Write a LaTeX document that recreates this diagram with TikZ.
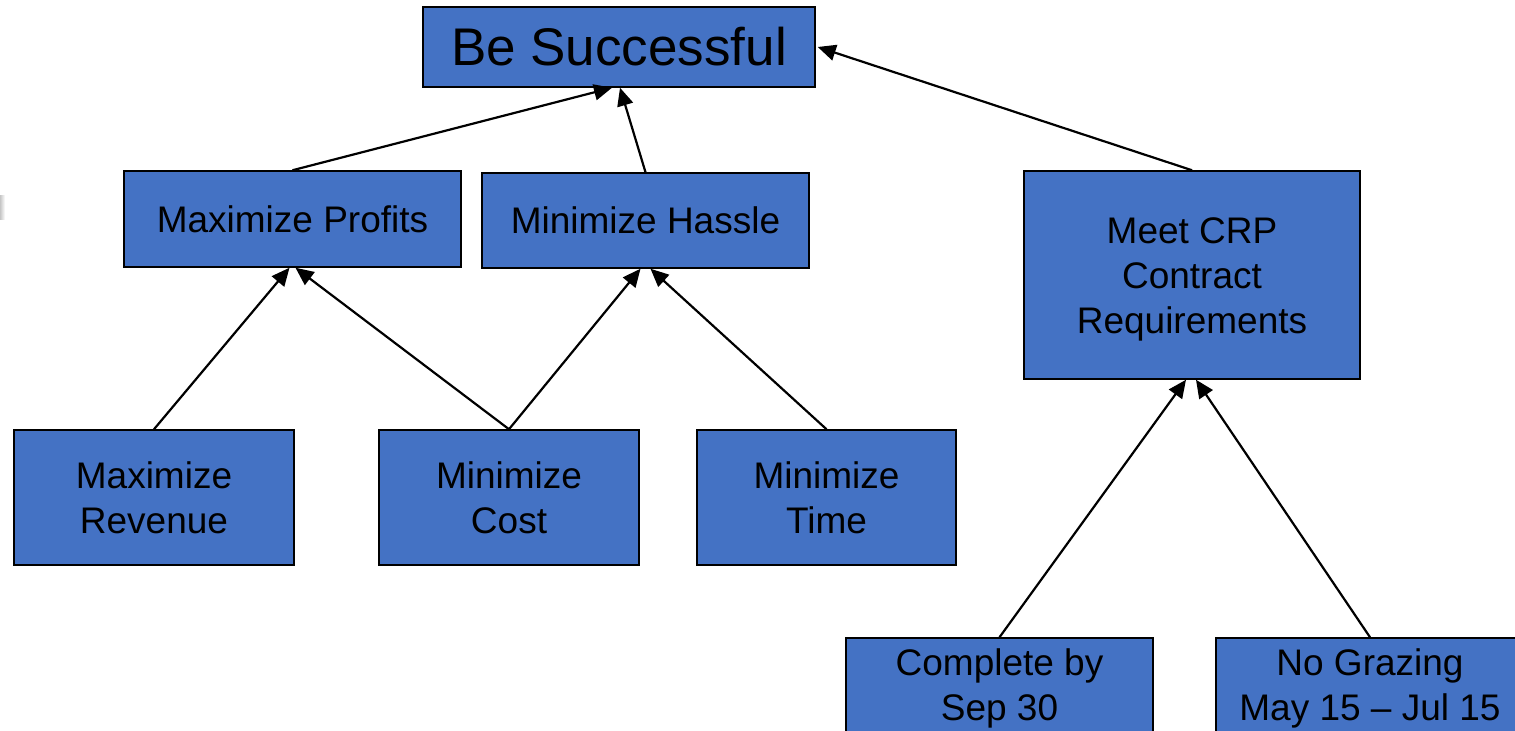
\documentclass[tikz,border=0pt]{standalone}
\usepackage{fontspec}
\setmainfont{Liberation Sans}
\usetikzlibrary{arrows.meta,calc}
\definecolor{boxblue}{HTML}{4472C4}
\tikzset{
  goal/.style={draw=black, line width=0.75pt, fill=boxblue, inner sep=0pt,
    align=center, font=\fontsize{18.5}{22.5}\selectfont},
  caption/.style={align=center, inner sep=0pt, font=\fontsize{18.5}{22.5}\selectfont},
  link/.style={line width=1.1pt, -{Triangle[length=9pt,width=8pt]}}
}
\begin{document}
\begin{tikzpicture}[x=0.5pt,y=-0.5pt]
\clip (0,0) rectangle (1515,731);
\fill[white] (0,0) rectangle (1515,731);
% faint mark on the left edge
\shade[left color=gray!45, right color=white] (0,196) rectangle (5,220);

% goals
\node[goal, minimum width=196pt, minimum height=40pt,
  font=\fontsize{26.5}{30}\selectfont] (bs) at (619,47) {Be Successful};
\node[goal, minimum width=168.5pt, minimum height=48pt] (mp) at (292.5,219) {Maximize Profits};
\node[goal, minimum width=163.5pt, minimum height=47.5pt] (mh) at (645.5,220.5) {Minimize Hassle};
\node[goal, minimum width=168pt, minimum height=104pt] (crp) at (1192,275) {};
\node[caption] (crptext) at (1192,279) {Meet CRP\\Contract\\Requirements};
\node[goal, minimum width=140pt, minimum height=67.5pt] (mr) at (154,497.5) {Maximize\\Revenue};
\node[goal, minimum width=130pt, minimum height=67.5pt] (mc) at (509,497.5) {Minimize\\Cost};
\node[goal, minimum width=129.5pt, minimum height=67.5pt] (mt) at (826.5,497.5) {Minimize\\Time};
\node[goal, minimum width=153.5pt, minimum height=50pt] (cb) at (999.5,688) {Complete by\\Sep 30};
\node[goal, minimum width=154pt, minimum height=50pt] (ng) at (1370,688) {No Grazing\\May 15 -- Jul 15};

% links
\draw[link] (mp.north) -- ([xshift=-3.5pt]bs.south);
\draw[link] (mh.north) -- ([xshift=0.5pt]bs.south);
\draw[link] (crp.north) -- ([xshift=1pt]bs.east);
\draw[link] (mr.north) -- ([xshift=-1.5pt]mp.south);
\draw[link] (mc.north) -- ([xshift=1.5pt]mp.south);
\draw[link] (mc.north) -- ([xshift=-2.5pt]mh.south);
\draw[link] (mt.north) -- ([xshift=2.5pt]mh.south);
\draw[link] (cb.north) -- ([xshift=-3pt]crp.south);
\draw[link] (ng.north) -- ([xshift=2pt]crp.south);
\end{tikzpicture}
\end{document}
